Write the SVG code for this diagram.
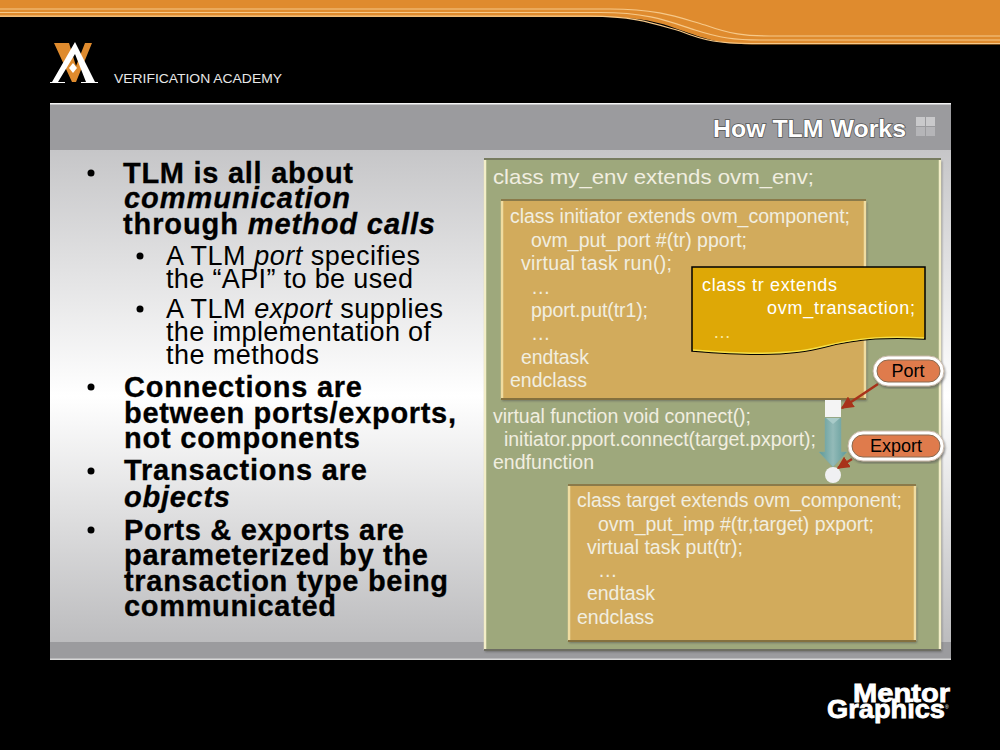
<svg xmlns="http://www.w3.org/2000/svg" width="1000" height="750" viewBox="0 0 1000 750">
<style>
text{font-family:"Liberation Sans",Arial,sans-serif}
.b{font-size:29px;font-weight:bold;fill:#000;stroke:#000;stroke-width:0.3px}
.s{font-size:27px;fill:#000}
.c{font-size:19.5px;fill:#f1eee0}
.i{font-style:italic}
.lbl{font-size:18px;fill:#000;text-anchor:middle}
.pill{fill:#df7b4c;stroke:#8a6a50;stroke-width:1}
.halo{fill:#fff;stroke:#c9b8a8;stroke-width:1}
.hi{stroke:#f3eec8;stroke-width:2.500;fill:none}
.hi2{stroke:#f0dca0;stroke-width:2.500;fill:none}
.dk{stroke:#6f6f52;stroke-width:2;fill:none}
</style>
<defs>
<linearGradient id="panel" x1="0" y1="0" x2="0" y2="1"><stop offset="0" stop-color="#c6c6c8"/><stop offset="0.5" stop-color="#ffffff"/><stop offset="1" stop-color="#bcbcbe"/></linearGradient>
<linearGradient id="arrow" x1="0" y1="0" x2="1" y2="0"><stop offset="0" stop-color="#5e9a98"/><stop offset="0.5" stop-color="#93bab8"/><stop offset="1" stop-color="#5e9a98"/></linearGradient>
<marker id="ah" viewBox="0 0 10 10" refX="9" refY="5" markerWidth="5" markerHeight="5" orient="auto-start-reverse"><path d="M0 0L10 5L0 10Z" fill="#a8321a"/></marker>
<filter id="sh" x="-5%" y="-5%" width="112%" height="112%"><feDropShadow dx="1" dy="2" stdDeviation="1" flood-color="#555" flood-opacity="0.6"/></filter>
</defs>

<rect width="1000" height="750" fill="#000"/>
<g id="banner">
<path d="M0 0H1000V44.500H760C715 44.500 705 38 680 30C650 18 625 17 590 17H0Z" fill="#df8b2e"/>
<g fill="none" stroke="#f6c98a" stroke-width="1.200">
<path d="M0 9H610C660 9 680 18 705 25C730 34 745 36 770 36H1000"/>
<path d="M0 12.500H600C650 12.500 670 22 695 30C720 38 735 40 760 40H1000"/>
<path d="M0 16.200H590C635 16.200 655 24 680 31C705 41 720 43.500 750 43.500H1000"/>
</g>
</g>
<g id="academy-logo">
<path d="M54 43H69L76 66L85 43H92L76 82H72Z" fill="#df8b2e"/>
<path d="M75 42L52 82H50V83H65V82H58L75 54L86 82H81V83H98V82H95Z" fill="#fff"/>
<path d="M73 63L77 68L73 73L69 68Z" fill="#fff"/>
<text x="114" y="83" font-size="13.500" fill="#e8e8e8" textLength="168" lengthAdjust="spacingAndGlyphs">VERIFICATION ACADEMY</text>
</g>

<g id="slide">
<rect x="50" y="103" width="901" height="557" fill="#9b9b9e"/>
<rect x="50" y="103" width="901" height="1.500" fill="#f4f4f4"/>
<rect x="50" y="658.500" width="901" height="1.500" fill="#d8d8d8"/>
<rect x="50" y="150" width="901" height="492" fill="url(#panel)"/>
<text x="906" y="137" text-anchor="end" font-size="24" font-weight="bold" fill="#fff" style="paint-order:stroke" stroke="#555" stroke-width="1.500" textLength="193" lengthAdjust="spacingAndGlyphs">How TLM Works</text>
<g fill="#c9c9cb"><rect x="916" y="117" width="9" height="9"/><rect x="926" y="117" width="9" height="9"/><rect x="916" y="127" width="9" height="9" fill="#b5b5b8"/><rect x="926" y="127" width="9" height="9" fill="#b5b5b8"/></g>
</g>

<g id="bullets">
<g><circle cx="91" cy="173" r="3.500"/><circle cx="91" cy="387" r="3.500"/><circle cx="91" cy="471" r="3.500"/><circle cx="91" cy="530" r="3.500"/><circle cx="140" cy="256" r="3.500"/><circle cx="140" cy="309" r="3.500"/></g>
<text class="b" x="123" y="183" textLength="230">TLM is all about</text>
<text class="b i" x="124" y="208" textLength="226">communication</text>
<text class="b" x="123" y="234" textLength="312">through <tspan class="i">method calls</tspan></text>
<text class="s" x="166" y="265" textLength="254">A TLM <tspan class="i">port</tspan> specifies</text>
<text class="s" x="166" y="288" textLength="247">the “API” to be used</text>
<text class="s" x="166" y="318" textLength="277">A TLM <tspan class="i">export</tspan> supplies</text>
<text class="s" x="166" y="341" textLength="265">the implementation of</text>
<text class="s" x="166" y="364" textLength="153">the methods</text>
<text class="b" x="124" y="397" textLength="238">Connections are</text>
<text class="b" x="124" y="423" textLength="332">between ports/exports,</text>
<text class="b" x="124" y="448" textLength="236">not components</text>
<text class="b" x="124" y="480" textLength="243">Transactions are</text>
<text class="b i" x="124" y="507" textLength="106">objects</text>
<text class="b" x="124" y="540" textLength="280">Ports &amp; exports are</text>
<text class="b" x="124" y="565" textLength="304">parameterized by the</text>
<text class="b" x="124" y="591" textLength="324">transaction type being</text>
<text class="b" x="124" y="616" textLength="212">communicated</text>
</g>

<g id="env">
<rect x="484" y="159" width="457" height="491" fill="#9ea87c" filter="url(#sh)"/>
<path class="hi" d="M485 160V650M940 160V650"/>
<path class="dk" d="M484 159H941" style="stroke:#777c60"/>
<path class="dk" d="M484 650H941" style="stroke:#6d6d62"/>
<text class="c" x="493" y="184" style="font-size:21px" textLength="321" lengthAdjust="spacingAndGlyphs">class my_env extends ovm_env;</text>
<text class="c" x="493" y="423" textLength="258">virtual function void connect();</text>
<text class="c" x="504" y="446" textLength="312">initiator.pport.connect(target.pxport);</text>
<text class="c" x="493" y="469" textLength="101">endfunction</text>
</g>

<g id="initiator">
<rect x="501" y="200" width="365" height="199" fill="#d2ab5c" filter="url(#sh)"/>
<path class="hi2" d="M502 201V399M865 201V399"/>
<path class="dk" d="M501 200H866" style="stroke:#8a7a4a"/>
<path class="dk" d="M501 399H866" style="stroke:#84703e"/>
<text class="c" x="510" y="223" textLength="340">class initiator extends ovm_component;</text>
<text class="c" x="531" y="247" textLength="216">ovm_put_port #(tr) pport;</text>
<text class="c" x="521" y="270" textLength="151">virtual task run();</text>
<text class="c" x="531" y="294">…</text>
<text class="c" x="531" y="317" textLength="117">pport.put(tr1);</text>
<text class="c" x="531" y="340">…</text>
<text class="c" x="521" y="364" textLength="68">endtask</text>
<text class="c" x="510" y="387" textLength="77">endclass</text>
</g>

<g id="target">
<rect x="568" y="485" width="348" height="156" fill="#d2ab5c" filter="url(#sh)"/>
<path class="hi2" d="M569 486V641M915 486V641"/>
<path class="dk" d="M568 485H916" style="stroke:#8a7a4a"/>
<path class="dk" d="M568 641H916" style="stroke:#84703e"/>
<text class="c" x="577" y="507" textLength="325">class target extends ovm_component;</text>
<text class="c" x="598" y="531" textLength="276">ovm_put_imp #(tr,target) pxport;</text>
<text class="c" x="587" y="554" textLength="156">virtual task put(tr);</text>
<text class="c" x="598" y="577">…</text>
<text class="c" x="587" y="600" textLength="68">endtask</text>
<text class="c" x="577" y="624" textLength="77">endclass</text>
</g>

<g id="tr-note">
<path d="M692 267H925V339C890 337 860 338 825 347C785 358 730 354 692 351Z" fill="#dea806" stroke="#000" stroke-width="1.500"/>
<path d="M693 350C730 353 785 357 825 346C860 337 890 336 924 338" fill="none" stroke="#f6e04a" stroke-width="1.500"/>
<text x="702" y="291" font-size="18" fill="#fff" textLength="135">class tr extends</text>
<text x="767" y="314" font-size="18" fill="#fff" textLength="148">ovm_transaction;</text>
<text x="713" y="338" font-size="18" fill="#fbe9a0">…</text>
</g>

<g id="connectors">
<rect x="825" y="400" width="16" height="17" fill="#f4f4f4"/>
<path d="M825 418H841V452H847L833 467L819 452H825Z" fill="url(#arrow)" stroke="#7fa9a7" stroke-width="0.500"/>
<path d="M826 418H840L833 424Z" fill="#a9cbc9"/>
<circle cx="833" cy="475" r="8" fill="#f0f0f2"/>
<line x1="878" y1="384" x2="842" y2="408" stroke="#a8321a" stroke-width="2.500" marker-end="url(#ah)"/>
<line x1="852" y1="459" x2="838" y2="468" stroke="#a8321a" stroke-width="2.500" marker-end="url(#ah)"/>
</g>

<g id="port-label">
<rect x="873" y="356" width="71" height="30" rx="15" class="halo" filter="url(#sh)"/>
<rect x="877" y="360" width="63" height="22" rx="11" class="pill"/>
<text class="lbl" x="908" y="377">Port</text>
</g>
<g id="export-label">
<rect x="848" y="431" width="96" height="30" rx="15" class="halo" filter="url(#sh)"/>
<rect x="852" y="435" width="88" height="22" rx="11" class="pill"/>
<text class="lbl" x="896" y="452">Export</text>
</g>

<g id="mentor-logo" fill="#fff" font-weight="bold" stroke="#fff" stroke-width="0.800">
<text x="853" y="702" font-size="26" textLength="97" lengthAdjust="spacingAndGlyphs">Mentor</text>
<text x="827" y="718" font-size="26" textLength="118" lengthAdjust="spacingAndGlyphs">Graphics</text>
<text x="945" y="709" font-size="5" font-weight="normal" stroke="none">®</text>
</g>
</svg>
